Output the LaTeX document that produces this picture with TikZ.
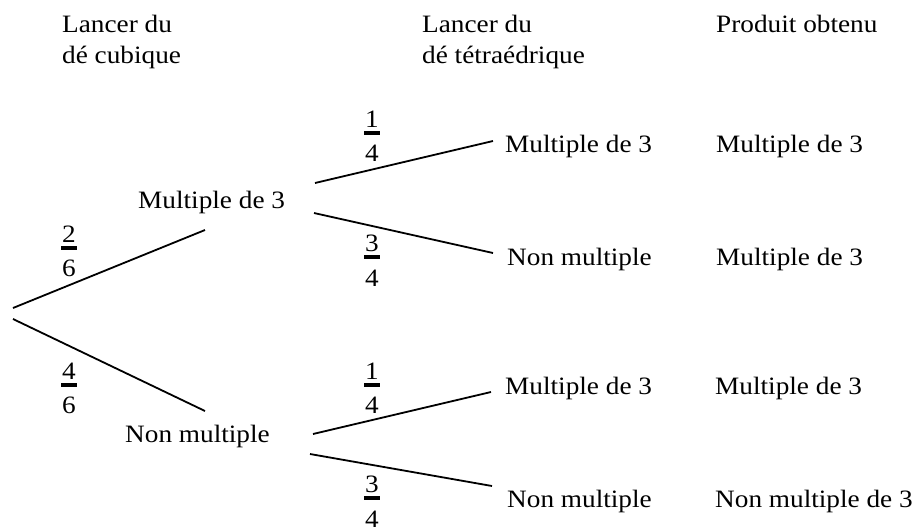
\documentclass[tikz,border=0pt]{standalone}
\usepackage{fontspec}
\setmainfont[FakeStretch=1.09]{Liberation Serif}
\newcommand{\fracpile}[2]{\vbox{\offinterlineskip\hbox to 18pt{\hss#1\hss}\kern3.4pt\hbox to 18pt{\hss\vrule width 16pt height 4pt depth 0pt\hss}\kern10.5pt\hbox to 18pt{\hss#2\hss}}}
\tikzset{
  txt/.style={font=\fontsize{25}{30}\selectfont, inner sep=0pt, anchor=base west},
  fracnode/.style={font=\fontsize{25}{30}\selectfont, inner sep=0pt, anchor=north},
  branch/.style={line width=1.8pt, black}
}
\begin{document}
\begin{tikzpicture}[x=1pt,y=-1pt]
\useasboundingbox (0,0) rectangle (918,531);
% headers
\node[txt] (h1a) at (62,32) {Lancer du};
\node[txt] (h1b) at (62,63) {dé cubique};
\node[txt] (h2a) at (422,32) {Lancer du};
\node[txt] (h2b) at (422,63) {dé tétraédrique};
\node[txt] (h3) at (716,32) {Produit obtenu};
% first level
\node[txt] (m1) at (138,208) {Multiple de 3};
\node[txt] (n1) at (125,442) {Non multiple};
% leaves
\node[txt] (l1) at (505,152) {Multiple de 3};
\node[txt] (l2) at (507,265) {Non multiple};
\node[txt] (l3) at (505,394) {Multiple de 3};
\node[txt] (l4) at (507,507) {Non multiple};
% products
\node[txt] (p1) at (716,152) {Multiple de 3};
\node[txt] (p2) at (716,265) {Multiple de 3};
\node[txt] (p3) at (715,394) {Multiple de 3};
\node[txt] (p4) at (715,507) {Non multiple de 3};
% branch end points
\coordinate (rootA) at (13,308);
\coordinate (rootB) at (13,319);
\coordinate (m1in) at (205,230);
\coordinate (n1in) at (205,411);
\coordinate (m1outA) at (315,183);
\coordinate (m1outB) at (314,213);
\coordinate (n1outA) at (313,434);
\coordinate (n1outB) at (310,454);
\coordinate (l1in) at (493,141);
\coordinate (l2in) at (493,253);
\coordinate (l3in) at (491,392);
\coordinate (l4in) at (492,486);
% branches
\draw[branch] (rootA) -- (m1in);
\draw[branch] (rootB) -- (n1in);
\draw[branch] (m1outA) -- (l1in);
\draw[branch] (m1outB) -- (l2in);
\draw[branch] (n1outA) -- (l3in);
\draw[branch] (n1outB) -- (l4in);
% probabilities (bar centre y minus 22.3)
\node[fracnode] (f26) at (69,225.7) {\fracpile{2}{6}};
\node[fracnode] (f46) at (69,362.7) {\fracpile{4}{6}};
\node[fracnode] (f14a) at (372,110.7) {\fracpile{1}{4}};
\node[fracnode] (f34a) at (372,234.7) {\fracpile{3}{4}};
\node[fracnode] (f14b) at (372,362.7) {\fracpile{1}{4}};
\node[fracnode] (f34b) at (372,475.7) {\fracpile{3}{4}};
\end{tikzpicture}
\end{document}
